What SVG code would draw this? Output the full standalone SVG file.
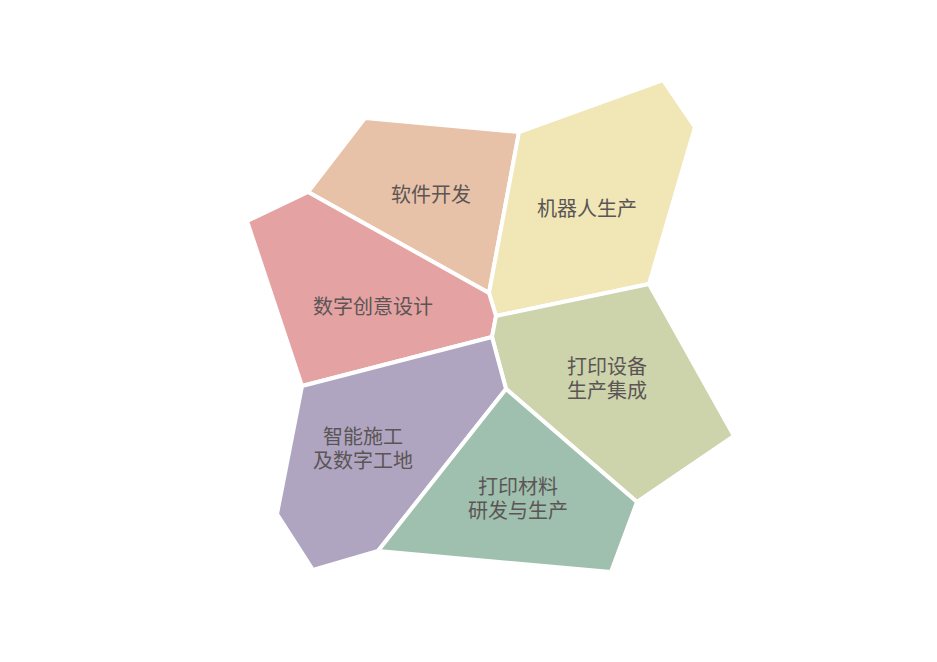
<svg xmlns="http://www.w3.org/2000/svg" width="937" height="662" viewBox="0 0 937 662">
<style>
.cell{stroke:#ffffff;stroke-width:4;stroke-linejoin:round}
.t{font-family:"Noto Sans CJK SC","Noto Sans",sans-serif;font-size:20px;fill:#5b5555;text-anchor:middle}
</style>
<rect width="937" height="662" fill="#ffffff"/>
<g id="software">
<polygon class="cell" fill="#e8c2a8" points="308,192 365,118 519,132 489,293"/>
<text class="t" x="431" y="202">软件开发</text>
</g>
<g id="robot">
<polygon class="cell" fill="#f0e6b6" points="519,132 663,80 695,127 649,284 496,316 489,293"/>
<text class="t" x="587" y="216">机器人生产</text>
</g>
<g id="design">
<polygon class="cell" fill="#e5a2a2" points="308,192 489,293 496,316 492,337 302,386 247,221"/>
<text class="t" x="373" y="314">数字创意设计</text>
</g>
<g id="equipment">
<polygon class="cell" fill="#cdd4ac" points="496,316 649,284 734,436 637,502 506,389 492,337"/>
<text class="t" x="607" y="374">打印设备<tspan x="607" dy="24">生产集成</tspan></text>
</g>
<g id="construction">
<polygon class="cell" fill="#b0a5c1" points="302,386 492,337 506,389 378,551 313,570 277,514"/>
<text class="t" x="363" y="444">智能施工<tspan x="363" dy="24">及数字工地</tspan></text>
</g>
<g id="material">
<polygon class="cell" fill="#9fc0ae" points="506,389 637,502 611,572 378,551"/>
<text class="t" x="518" y="494">打印材料<tspan x="518" dy="24">研发与生产</tspan></text>
</g>
<g id="connectors"></g>
</svg>
